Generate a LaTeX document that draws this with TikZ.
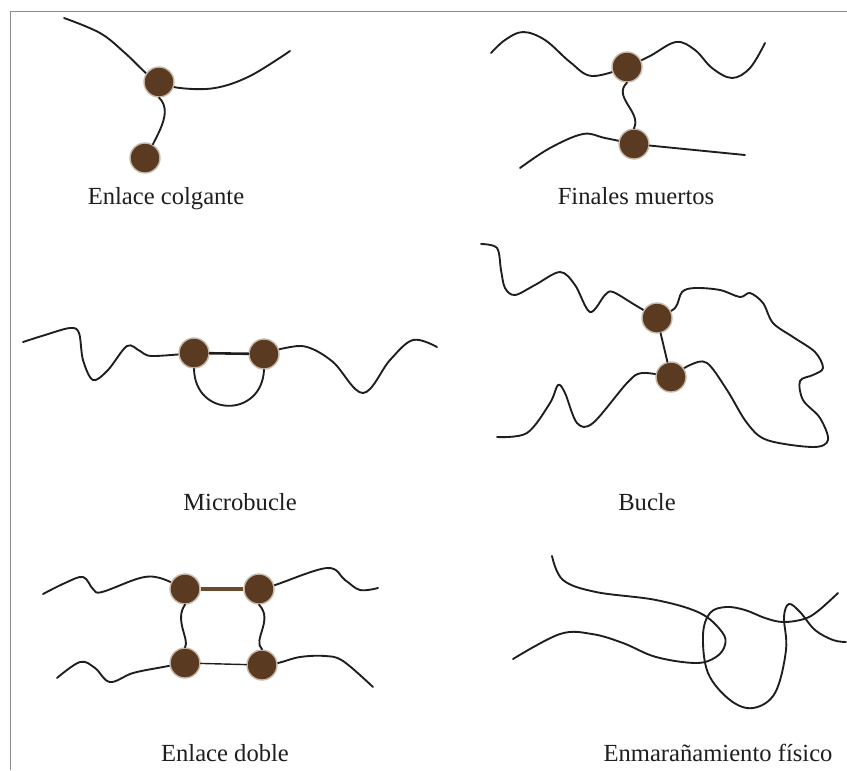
\documentclass[tikz,border=0pt]{standalone}
\usepackage{fontspec}
\setmainfont{Liberation Serif}
\usepackage{xcolor}
\definecolor{inkdark}{HTML}{1E1E1E}
\definecolor{beadbrown}{HTML}{5A3A20}
\definecolor{beadrim}{HTML}{C9B9AA}
\definecolor{bridgebrown}{HTML}{6A4A2C}
\definecolor{framegrey}{HTML}{8C8C8C}

\begin{document}
\begin{tikzpicture}[x=0.03cm, y=-0.03cm,
  strand/.style={inkdark, line width=1.6pt, line cap=round, line join=round},
  bead/.style={circle, fill=beadbrown, draw=beadrim, line width=1.2pt, minimum size=0.9cm, inner sep=0pt},
  caption/.style={anchor=base, text=inkdark, font=\fontsize{21}{25}\selectfont}]

  \useasboundingbox (0,0) rectangle (847,770);
  % Page edge
  \draw[framegrey, line width=0.8pt] (847,11) -- (10,11) -- (10,770);

  % ==================== 1. ENLACE COLGANTE ====================
  \draw[strand] plot[smooth, tension=0.6] coordinates {(64,18) (100,33) (125,53) (148,75) (159,82) (180,88) (215,88) (250,76) (290,51)};
  \node[bead] (colgA) at (159,82) {};
  \node[bead] (colgB) at (145,158) {};
  \draw[strand] (colgA.south) .. controls (172,110) and (160,130) .. (colgB.60);
  \node[caption] (capColg) at (166,204) {Enlace colgante};

  % ==================== 2. FINALES MUERTOS ====================
  \draw[strand] plot[smooth, tension=0.6] coordinates {(491,53) (505,40) (523,32) (545,40) (570,62) (592,76) (627,67)};
  \draw[strand] plot[smooth, tension=0.6] coordinates {(627,67) (650,56) (676,42) (695,50) (712,68) (732,78) (750,68) (765,43)};
  \draw[strand] plot[smooth, tension=0.6] coordinates {(520,168) (550,148) (583,134) (605,138) (634,144)};
  \node[bead] (finA) at (627,67) {};
  \node[bead] (finB) at (634,144) {};
  \draw[strand] (finA.south) .. controls (612,97) and (642,112) .. (finB.north);
  \coordinate (finEnd) at (745,155);
  \draw[strand] (finB) -- (finEnd);
  \node[caption] (capFin) at (636,204) {Finales muertos};

  % ==================== 3. MICROBUCLE ====================
  \draw[strand] plot[smooth, tension=0.55] coordinates {(23,342) (45,335) (70,328) (79,333) (83,360) (93,380) (108,370) (127,346) (140,351) (152,356) (194,353)};
  \draw[strand] plot[smooth, tension=0.6] coordinates {(264,354) (285,348) (307,347) (333,362) (363,393) (390,360) (413,340) (437,347)};
  \node[bead] (micA) at (194,353) {};
  \node[bead] (micB) at (264,354) {};
  \draw[strand, line width=2.2pt] (micA) -- (micB);
  \draw[strand] (micA.south) .. controls (195,418) and (262,418) .. (micB.south);
  \node[caption] (capMic) at (240,510) {Microbucle};

  % ==================== 4. BUCLE ====================
  \draw[strand] plot[smooth, tension=0.55] coordinates {(481,244) (497,248) (501,270) (505,288) (515,295) (535,285) (560,272) (575,285) (590,312) (605,295) (613,292) (635,305) (657,318)};
  \draw[strand] plot[smooth, tension=0.55] coordinates {(657,318) (675,308) (682,292) (695,288) (720,290) (740,297) (750,293) (763,303) (773,323) (793,337) (815,352) (823,368) (813,375) (800,381) (803,400) (820,418) (828,440) (813,447) (767,440) (747,423) (727,390) (707,363) (690,365) (671,377)};
  \draw[strand] plot[smooth, tension=0.55] coordinates {(497,437) (527,433) (550,403) (558,385) (565,393) (577,423) (593,423) (627,383) (642,373) (671,377)};
  \node[bead] (bucA) at (657,318) {};
  \node[bead] (bucB) at (671,377) {};
  \draw[strand] (bucA) -- (bucB);
  \node[caption] (capBuc) at (647,510) {Bucle};

  % ==================== 5. ENLACE DOBLE ====================
  \draw[strand] plot[smooth, tension=0.6] coordinates {(43,594) (65,583) (83,577) (93,589) (102,592) (140,578) (160,578) (185,589)};
  \draw[strand] plot[smooth, tension=0.6] coordinates {(259,589) (275,585) (327,568) (345,580) (360,590) (378,588)};
  \draw[strand] plot[smooth, tension=0.6] coordinates {(57,678) (80,662) (95,668) (110,682) (133,673) (163,667) (185,663)};
  \draw[strand] plot[smooth, tension=0.6] coordinates {(262,665) (278,663) (300,657) (325,656) (343,661) (373,687)};
  \node[bead] (dobA) at (185,589) {};
  \node[bead] (dobB) at (259,589) {};
  \node[bead] (dobC) at (185,663) {};
  \node[bead] (dobD) at (262,665) {};
  \draw[bridgebrown, line width=3.4pt] (dobA) -- (dobB);
  \draw[strand, line width=1.2pt] (dobC) -- (dobD);
  \draw[strand] (dobA.south) .. controls (174,620) and (190,640) .. (dobC.north);
  \draw[strand] (dobB.south) .. controls (274,620) and (252,640) .. (dobD.north);
  \node[caption] (capDob) at (225,761) {Enlace doble};

  % ==================== 6. ENMARAÑAMIENTO FÍSICO ====================
  \draw[strand] plot[smooth, tension=0.6] coordinates {(552,556) (563,580) (596,592) (656,600) (700,613) (722,632) (725,645) (716,657) (696,663) (656,657) (623,643) (592,634) (560,634) (513,659)};
  \draw[strand] plot[smooth, tension=0.6] coordinates {(838,593) (818,611) (804,619) (783,622) (765,618) (745,610) (726,607) (710,613) (703,635) (708,673) (730,700) (753,708) (775,693) (786,650) (784,617) (789,604) (800,612) (815,630) (833,640) (846,642)};
  \node[caption] (capEnm) at (718,761) {Enmarañamiento físico};

\end{tikzpicture}
\end{document}
